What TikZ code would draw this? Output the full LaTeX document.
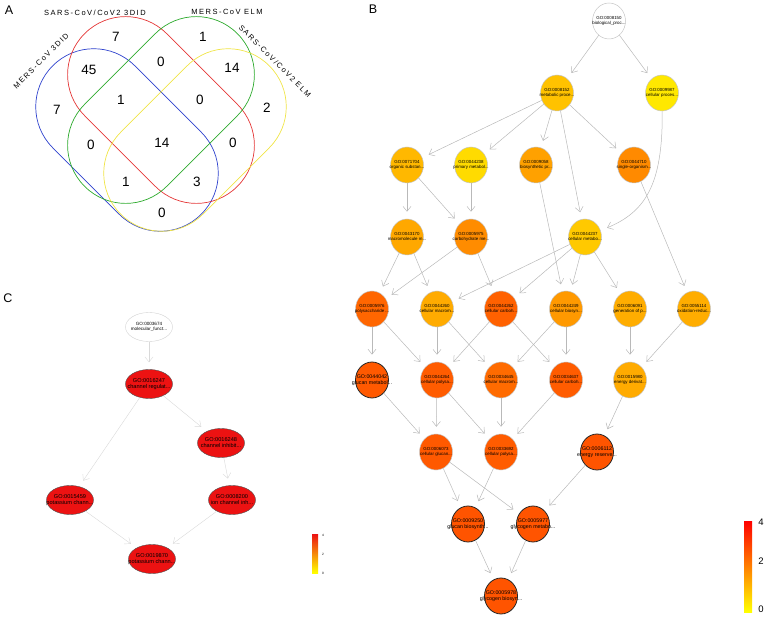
\documentclass[tikz,border=0pt]{standalone}
\usepackage{fontspec}
\setmainfont{Liberation Sans}
\newfontfamily\vennfont[LetterSpace=20]{Liberation Sans}
\usepackage{xcolor}
\usetikzlibrary{arrows.meta, shapes.geometric}

\definecolor{vennblue}{RGB}{45,65,205}
\definecolor{vennred}{RGB}{228,55,55}
\definecolor{venngreen}{RGB}{45,170,45}
\definecolor{vennyellow}{RGB}{240,228,70}
\definecolor{chanred}{RGB}{236,18,18}

% two-line GO label that does not widen its node
\newcommand{\goterm}[2]{\makebox[0pt]{\begin{tabular}{@{}c@{}}#1\\#2\end{tabular}}}

\begin{document}
\begin{tikzpicture}[x=1pt, y=-1pt,
    term/.style={ellipse, draw=gray!45, line width=0.5pt, fill=red!#1!yellow,
        minimum width=33pt, minimum height=36pt, inner sep=0pt,
        font=\fontsize{4.4}{4.9}\selectfont},
    keyterm/.style={term=#1, draw=black!85, line width=0.8pt, font=\fontsize{5.3}{6}\selectfont},
    fn/.style={ellipse, draw=gray!60!black, line width=0.4pt, fill=chanred,
        minimum width=47pt, minimum height=29pt, inner sep=0pt,
        font=\fontsize{5.6}{6.4}\selectfont},
    link/.style={draw=gray!55, line width=0.5pt, -{Straight Barb[length=5pt,width=8pt]}, shorten >=7pt},
    flink/.style={link, draw=gray!30, line width=0.4pt},
    vnum/.style={font=\fontsize{13.5}{15}\selectfont},
    setname/.style={font=\vennfont\fontsize{7.5}{9}\selectfont},
    panel/.style={font=\fontsize{12.5}{14}\selectfont}]
    \useasboundingbox (0,0) rectangle (766,620);

    % Panel letters
    \node[panel] (pa) at (9,10) {A};
    \node[panel] (pb) at (373,9) {B};
    \node[panel] (pc) at (8,298) {C};

    % Venn sets
    \draw[vennblue, line width=0.7pt, rotate around={-45:(127,140)}, rounded corners=57.9pt] (22,82) rectangle (232,198);
    \draw[vennred, line width=0.7pt, rotate around={-45:(161,110)}, rounded corners=57.9pt] (53,52) rectangle (269,168);
    \draw[venngreen, line width=0.7pt, rotate around={45:(161,110)}, rounded corners=57.9pt] (53,52) rectangle (269,168);
    \draw[vennyellow, line width=0.7pt, rotate around={45:(195,140)}, rounded corners=57.9pt] (90,82) rectangle (300,198);

    \node[setname] (sarsdid) at (95,13) {SARS-CoV/CoV2 3DID};
    \node[setname] (merselm) at (227,12) {MERS-CoV ELM};
    \node[setname, rotate=45] (mersdid) at (41,61) {MERS-CoV 3DID};
    \node[setname, rotate=-45] (sarselm) at (275,61) {SARS-CoV/CoV2 ELM};

    % Venn counts
    \node[vnum] (r1) at (116,37) {7};
    \node[vnum] (r2) at (203,37) {1};
    \node[vnum] (r3) at (89,70) {45};
    \node[vnum] (r4) at (161,62) {0};
    \node[vnum] (r5) at (232,68) {14};
    \node[vnum] (r6) at (57,110) {7};
    \node[vnum] (r7) at (121,100) {1};
    \node[vnum] (r8) at (200,100) {0};
    \node[vnum] (r9) at (267,108) {2};
    \node[vnum] (r10) at (91,145) {0};
    \node[vnum] (r11) at (162,143) {14};
    \node[vnum] (r12) at (233,143) {0};
    \node[vnum] (r13) at (126,182) {1};
    \node[vnum] (r14) at (197,182) {3};
    \node[vnum] (r15) at (162,213) {0};

    % Panel B nodes
    \node[term=0, fill=white] (b8150) at (609,21) {\goterm{GO:0008150}{biological\_proc...}};
    \node[term=24] (b8152) at (557,93) {\goterm{GO:0008152}{metabolic proce...}};
    \node[term=9] (b9987) at (662,93) {\goterm{GO:0009987}{cellular proces...}};
    \node[term=28] (b71704) at (407,165) {\goterm{GO:0071704}{organic substan...}};
    \node[term=14] (b44238) at (471,165) {\goterm{GO:0044238}{primary metabol...}};
    \node[term=37] (b9058) at (536,165) {\goterm{GO:0009058}{biosynthetic pr...}};
    \node[term=46] (b44710) at (634,165) {\goterm{GO:0044710}{single-organism...}};
    \node[term=34] (b43170) at (407,237) {\goterm{GO:0043170}{macromolecule m...}};
    \node[term=45] (b5975) at (471,237) {\goterm{GO:0005975}{carbohydrate me...}};
    \node[term=21] (b44237) at (585,237) {\goterm{GO:0044237}{cellular metabo...}};
    \node[term=60] (b5976) at (372,309) {\goterm{GO:0005976}{polysaccharide ...}};
    \node[term=33] (b44260) at (437,309) {\goterm{GO:0044260}{cellular macrom...}};
    \node[term=62] (b44262) at (501,309) {\goterm{GO:0044262}{cellular carboh...}};
    \node[term=40] (b44249) at (566,309) {\goterm{GO:0044249}{cellular biosyn...}};
    \node[term=32] (b6091) at (630,309) {\goterm{GO:0006091}{generation of p...}};
    \node[term=32] (b55114) at (694,309) {\goterm{GO:0055114}{oxidation-reduc...}};
    \node[keyterm=65] (b44042) at (372,380) {\goterm{GO:0044042}{glucan metabol...}};
    \node[term=64] (b44264) at (437,380) {\goterm{GO:0044264}{cellular polysa...}};
    \node[term=58] (b34645) at (501,380) {\goterm{GO:0034645}{cellular macrom...}};
    \node[term=64] (b34637) at (566,380) {\goterm{GO:0034637}{cellular carboh...}};
    \node[term=33] (b15980) at (630,380) {\goterm{GO:0015980}{energy derivat...}};
    \node[term=65] (b6073) at (436,452) {\goterm{GO:0006073}{cellular glucan...}};
    \node[term=64] (b33692) at (501,452) {\goterm{GO:0033692}{cellular polysa...}};
    \node[keyterm=67] (b6112) at (597,452) {\goterm{GO:0006112}{energy reserve...}};
    \node[keyterm=67] (b9250) at (468,524) {\goterm{GO:0009250}{glucan biosynth...}};
    \node[keyterm=67] (b5977) at (533,524) {\goterm{GO:0005977}{glycogen metabo...}};
    \node[keyterm=67] (b5978) at (501,596) {\goterm{GO:0005978}{glycogen biosyn...}};

    % Panel B edges
    \draw[link] (b8150) -- (b8152);
    \draw[link] (b8150) -- (b9987);
    \draw[link] (b8152) -- (b71704);
    \draw[link] (b8152) -- (b44238);
    \draw[link] (b8152) -- (b9058);
    \draw[link] (b8152) -- (b44710);
    \draw[link] (b8152) -- (b44237);
    \draw[link] (b9987) .. controls (663,185) and (645,212) .. (b44237);
    \draw[link] (b71704) -- (b43170);
    \draw[link] (b71704) -- (b5975);
    \draw[link] (b44238) -- (b5975);
    \draw[link] (b9058) -- (b44249);
    \draw[link] (b44710) -- (b55114);
    \draw[link] (b43170) -- (b5976);
    \draw[link] (b43170) -- (b44260);
    \draw[link] (b5975) -- (b5976);
    \draw[link] (b5975) -- (b44262);
    \draw[link] (b44237) -- (b44260);
    \draw[link] (b44237) -- (b44262);
    \draw[link] (b44237) -- (b44249);
    \draw[link] (b44237) -- (b6091);
    \draw[link] (b5976) -- (b44042);
    \draw[link] (b5976) -- (b44264);
    \draw[link] (b44260) -- (b44264);
    \draw[link] (b44260) -- (b34645);
    \draw[link] (b44262) -- (b44264);
    \draw[link] (b44262) -- (b34637);
    \draw[link] (b44249) -- (b34645);
    \draw[link] (b44249) -- (b34637);
    \draw[link] (b6091) -- (b15980);
    \draw[link] (b55114) -- (b15980);
    \draw[link] (b44042) -- (b6073);
    \draw[link] (b44264) -- (b6073);
    \draw[link] (b44264) -- (b33692);
    \draw[link] (b34645) -- (b33692);
    \draw[link] (b34637) -- (b33692);
    \draw[link] (b15980) -- (b6112);
    \draw[link] (b6073) -- (b9250);
    \draw[link] (b6073) -- (b5977);
    \draw[link] (b33692) -- (b9250);
    \draw[link] (b6112) -- (b5977);
    \draw[link] (b9250) -- (b5978);
    \draw[link] (b5977) -- (b5978);

    % Panel B scale
    \shade[top color=red, bottom color=yellow] (744,521) rectangle (752,612);
    \node[font=\fontsize{9.5}{10}\selectfont] (bmax) at (761,522) {4};
    \node[font=\fontsize{9.5}{10}\selectfont] (bmid) at (761,561) {2};
    \node[font=\fontsize{9.5}{10}\selectfont] (bmin) at (761,609) {0};

    % Panel C nodes
    \node[fn, fill=white, draw=gray!35, font=\fontsize{4.6}{5.2}\selectfont] (c3674) at (149,327) {\goterm{GO:0003674}{molecular\_funct...}};
    \node[fn] (c16247) at (149,384) {\goterm{GO:0016247}{channel regulat...}};
    \node[fn] (c16248) at (221,443) {\goterm{GO:0016248}{channel inhibit...}};
    \node[fn] (c15459) at (70,500) {\goterm{GO:0015459}{potassium chann...}};
    \node[fn] (c8200) at (232,500) {\goterm{GO:0008200}{ion channel inh...}};
    \node[fn] (c19870) at (152,559) {\goterm{GO:0019870}{potassium chann...}};

    % Panel C edges
    \draw[flink] (c3674) -- (c16247);
    \draw[flink] (c16247) -- (c16248);
    \draw[flink] (c16247) -- (c15459);
    \draw[flink] (c16248) -- (c8200);
    \draw[flink] (c15459) -- (c19870);
    \draw[flink] (c8200) -- (c19870);

    % Panel C scale
    \shade[top color=chanred, bottom color=yellow] (312,534) rectangle (318,573);
    \node[font=\fontsize{3.2}{4}\selectfont] (cmax) at (323,535) {4};
    \node[font=\fontsize{3.2}{4}\selectfont] (cmid) at (323,554) {2};
    \node[font=\fontsize{3.2}{4}\selectfont] (cmin) at (323,573) {0};
\end{tikzpicture}
\end{document}
